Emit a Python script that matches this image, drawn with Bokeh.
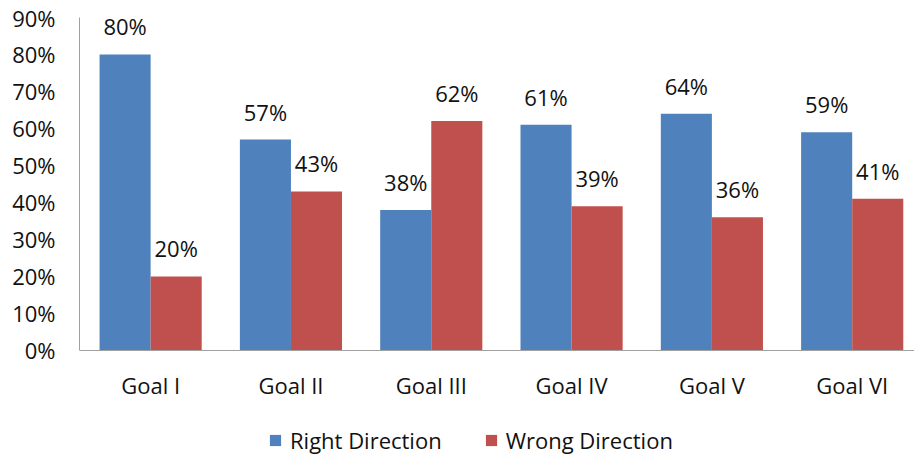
from bokeh.plotting import figure
from bokeh.models import (ColumnDataSource, FixedTicker, NumeralTickFormatter, Legend,
                          LegendItem, Range1d, Span)
from bokeh.transform import dodge
from bokeh.core.properties import value
from bokeh.embed import file_html
from bokeh.resources import INLINE

goals = ["Goal I", "Goal II", "Goal III", "Goal IV", "Goal V", "Goal VI"]
right_direction = [0.80, 0.57, 0.38, 0.61, 0.64, 0.59]
wrong_direction = [0.20, 0.43, 0.62, 0.39, 0.36, 0.41]
y_ticks = [0.0, 0.1, 0.2, 0.3, 0.4, 0.5, 0.6, 0.7, 0.8, 0.9]

FONT = "Open Sans"
FS = "22px"
BLUE = "#4F81BD"
RED = "#C0504D"
TXT = "#111111"
AXIS = "#A0A0A0"

xpos = [i + 0.5 for i in range(len(goals))]
src = ColumnDataSource(dict(
    x=xpos,
    goal=goals,
    zero=[0.0] * len(goals),
    right=right_direction,
    wrong=wrong_direction,
    right_lbl=[f"{round(v*100)}%" for v in right_direction],
    wrong_lbl=[f"{round(v*100)}%" for v in wrong_direction],
))

# frame runs to the bottom of the canvas so the legend can sit under the category labels
p = figure(width=914, height=458, output_backend="svg", toolbar_location=None,
           x_range=Range1d(-0.007, 5.944), y_range=Range1d(-0.2919, 0.9),
           min_border_left=79, min_border_right=0, min_border_top=17, min_border_bottom=0)
p.outline_line_color = None
p.xgrid.visible = False
p.ygrid.visible = False
p.xaxis.visible = False

bw = 0.364
off = 0.182
r1 = p.vbar(x=dodge("x", -off, range=p.x_range), top="right", width=bw, source=src,
            fill_color=BLUE, line_color=None)
r2 = p.vbar(x=dodge("x", off, range=p.x_range), top="wrong", width=bw, source=src,
            fill_color=RED, line_color=None)

p.text(x=dodge("x", -off, range=p.x_range), y="right", text="right_lbl", source=src,
       text_align="center", text_baseline="alphabetic", y_offset=-28,
       text_font=value(FONT), text_font_size=FS, text_color=TXT)
p.text(x=dodge("x", off, range=p.x_range), y="wrong", text="wrong_lbl", source=src,
       text_align="center", text_baseline="alphabetic", y_offset=-28,
       text_font=value(FONT), text_font_size=FS, text_color=TXT)

# category axis: baseline at value 0 with its labels
p.add_layout(Span(location=0, dimension="width", line_color=AXIS, line_width=1))
p.text(x="x", y="zero", text="goal", source=src, text_align="center",
       text_baseline="alphabetic", y_offset=35,
       text_font=value(FONT), text_font_size=FS, text_color=TXT)

ya = p.yaxis[0]
ya.ticker = FixedTicker(ticks=y_ticks)
ya.formatter = NumeralTickFormatter(format="0%")
ya.bounds = (0, 0.9)
ya.axis_line_color = AXIS
ya.axis_line_width = 1
ya.major_tick_line_color = None
ya.minor_tick_line_color = None
ya.major_tick_out = 0
ya.major_tick_in = 0
ya.minor_tick_out = 0
ya.minor_tick_in = 0
ya.major_label_text_font = FONT
ya.major_label_text_font_size = FS
ya.major_label_text_color = TXT
ya.major_label_standoff = 24

legend = Legend(items=[LegendItem(label="Right Direction", renderers=[r1]),
                       LegendItem(label="Wrong Direction", renderers=[r2])],
                orientation="horizontal", location=(189, 3),
                glyph_width=14, glyph_height=14, label_standoff=8, spacing=42,
                padding=0, margin=0, border_line_color=None, background_fill_alpha=0,
                label_text_font=FONT, label_text_font_size=FS, label_text_color=TXT)
p.add_layout(legend, "center")

open("out.html", "w").write(file_html(p, INLINE))
